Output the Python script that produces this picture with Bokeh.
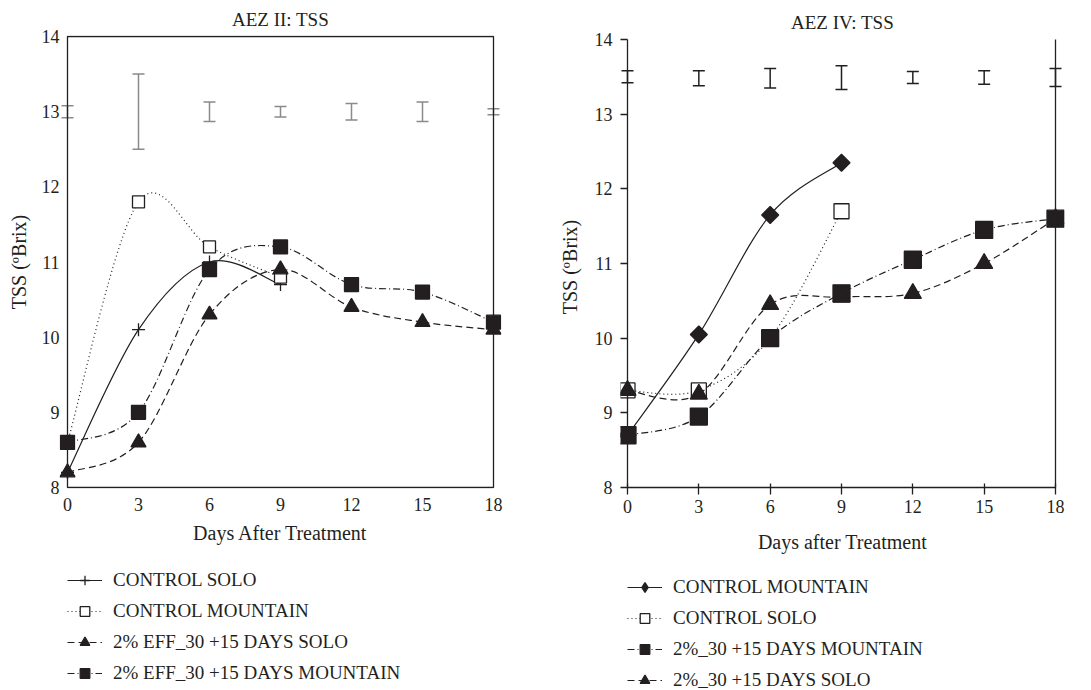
import math
from bokeh.plotting import figure
from bokeh.layouts import row, column
from bokeh.models import (ColumnDataSource, Whisker, TeeHead, Legend, LegendItem,
                          FixedTicker, Range1d, BoxAnnotation)
from bokeh.embed import file_html
from bokeh.resources import INLINE

# ---------------- data ----------------
days = [0, 3, 6, 9, 12, 15, 18]
days_ctrl = [0, 3, 6, 9]

aez2_control_solo = [8.2, 10.1, 11.0, 10.7]
aez2_control_mountain = [8.6, 11.8, 11.2, 10.8]
aez2_eff_solo = [8.2, 8.6, 10.3, 10.9, 10.4, 10.2, 10.1]
aez2_eff_mountain = [8.6, 9.0, 10.9, 11.2, 10.7, 10.6, 10.2]
aez2_err_center = [13.0, 13.0, 13.0, 13.0, 13.0, 13.0, 13.0]
aez2_err_half = [0.08, 0.5, 0.13, 0.07, 0.11, 0.13, 0.04]

aez4_control_mountain = [8.7, 10.05, 11.65, 12.35]
aez4_control_solo = [9.3, 9.3, 10.0, 11.7]
aez4_mountain = [8.7, 8.95, 10.0, 10.6, 11.05, 11.45, 11.6]
aez4_solo = [9.3, 9.25, 10.45, 10.55, 10.6, 11.0, 11.6]
aez4_err_center = [13.5, 13.48, 13.48, 13.49, 13.49, 13.49, 13.49]
aez4_err_half = [0.08, 0.1, 0.13, 0.16, 0.08, 0.09, 0.12]

x_ticks = [0, 3, 6, 9, 12, 15, 18]
y_ticks = [8, 9, 10, 11, 12, 13, 14]

INK = "#231f20"
FONT = "Liberation Serif"
CHART_H = 560
LEG_H = 130


def smooth_source(xs, ys):
    """Bezier control points (Catmull-Rom style smoothing) from the data."""
    n = len(xs)
    d = dict(x0=[], y0=[], x1=[], y1=[], cx0=[], cy0=[], cx1=[], cy1=[])
    for i in range(n - 1):
        a = i - 1 if i > 0 else i
        b = i + 2 if i + 2 < n else i + 1
        d["x0"].append(xs[i]); d["y0"].append(ys[i])
        d["x1"].append(xs[i + 1]); d["y1"].append(ys[i + 1])
        d["cx0"].append(xs[i] + (xs[i + 1] - xs[a]) / 6.0)
        d["cy0"].append(ys[i] + (ys[i + 1] - ys[a]) / 6.0)
        d["cx1"].append(xs[i + 1] - (xs[b] - xs[i]) / 6.0)
        d["cy1"].append(ys[i + 1] - (ys[b] - ys[i]) / 6.0)
    return ColumnDataSource(d)


def make_fig(title, xlabel, width, x0_px, x18_px, y14_px, y8_px,
             pad_l, pad_r, pad_t, pad_b, title_standoff):
    xs = (x18_px - x0_px) / (x_ticks[-1] - x_ticks[0])
    ys = (y8_px - y14_px) / (y_ticks[-1] - y_ticks[0])
    p = figure(width=width, height=CHART_H,
               x_range=Range1d(x_ticks[0] - pad_l / xs, x_ticks[-1] + pad_r / xs),
               y_range=Range1d(y_ticks[0] - pad_b / ys, y_ticks[-1] + pad_t / ys),
               output_backend="svg", toolbar_location=None, tools="",
               min_border_left=x0_px - pad_l, min_border_right=width - (x18_px + pad_r),
               min_border_top=y14_px - pad_t, min_border_bottom=CHART_H - (y8_px + pad_b))
    p.title.text = title
    p.title.align = "center"
    p.title.vertical_align = "middle"
    p.title.standoff = title_standoff
    p.title.text_font = FONT
    p.title.text_font_size = "19px"
    p.title.text_font_style = "normal"
    p.title.text_color = INK
    p.grid.visible = False
    p.outline_line_color = None
    p.background_fill_color = "white"
    p.border_fill_color = "white"
    p.xaxis.ticker = FixedTicker(ticks=x_ticks)
    p.yaxis.ticker = FixedTicker(ticks=y_ticks)
    p.xaxis.axis_label = xlabel
    p.yaxis.axis_label = "TSS (ºBrix)"
    for ax in (p.xaxis[0], p.yaxis[0]):
        ax.axis_line_color = None
        ax.axis_label_text_font = FONT
        ax.axis_label_text_font_size = "20px"
        ax.axis_label_text_font_style = "normal"
        ax.axis_label_text_color = INK
        ax.major_label_text_font = FONT
        ax.major_label_text_font_size = "18px"
        ax.major_label_text_color = INK
        ax.minor_tick_line_color = None
        ax.minor_tick_in = 0
        ax.minor_tick_out = 0
    p.yaxis.major_label_orientation = "horizontal"
    return p


def add_series(p, xs, ys, dash, marker, msize, fill, angle=0.0):
    src = smooth_source(xs, ys)
    rl = p.bezier(x0="x0", y0="y0", x1="x1", y1="y1", cx0="cx0", cy0="cy0",
                  cx1="cx1", cy1="cy1", source=src, line_color=INK, line_width=1.2,
                  line_dash=dash)
    rm = p.scatter(x=xs, y=ys, marker=marker, size=msize, angle=angle,
                   line_color=INK, line_width=1.3, fill_color=fill)
    return [rl, rm]


def add_errors(p, centers, halves, color):
    src = ColumnDataSource(dict(x=days,
                                upper=[c + h for c, h in zip(centers, halves)],
                                lower=[c - h for c, h in zip(centers, halves)]))
    w = Whisker(source=src, base="x", upper="upper", lower="lower",
                line_color=color, line_width=1.5,
                upper_head=TeeHead(size=12, line_color=color, line_width=1.5),
                lower_head=TeeHead(size=12, line_color=color, line_width=1.5))
    p.add_layout(w)


def legend_fig(width, series, left_px, bottom_px):
    """A strip under a chart holding its legend (series drawn off-view, keys only)."""
    q = figure(width=width, height=LEG_H, x_range=Range1d(100, 101), y_range=Range1d(100, 101),
               x_axis_type=None, y_axis_type=None, output_backend="svg",
               toolbar_location=None, tools="", min_border=0)
    q.grid.visible = False
    q.outline_line_color = None
    q.background_fill_color = "white"
    q.border_fill_color = "white"
    items = []
    for lab, args in series:
        items.append(LegendItem(label=lab, renderers=add_series(q, *args)))
    leg = Legend(items=items, location=(left_px, bottom_px), orientation="vertical",
                 glyph_width=35, glyph_height=24, spacing=7, label_standoff=11,
                 padding=0, margin=0, border_line_color=None,
                 background_fill_alpha=0,
                 label_text_font=FONT, label_text_font_size="19px",
                 label_text_color=INK)
    q.add_layout(leg)
    return q


# ---------------- AEZ II ----------------
s_cs = (days_ctrl, aez2_control_solo, "solid", "cross", 13, None)
s_cm = (days_ctrl, aez2_control_mountain, "1 3", "square", 12, "white")
s_em = (days, aez2_eff_mountain, "7 3 1 3", "square", 14, INK)
s_es = (days, aez2_eff_solo, "7 4", "triangle", 15, INK)

p1 = make_fig("AEZ II: TSS", "Days After Treatment", 545, 67, 493, 36, 487,
              8, 8, 1, 1, 9.5)
p1.xaxis.major_tick_line_color = None
p1.yaxis.major_tick_line_color = None
for ax in (p1.xaxis[0], p1.yaxis[0]):
    ax.major_tick_in = 0
    ax.major_tick_out = 0
p1.xaxis.major_label_standoff = 9
p1.yaxis.major_label_standoff = 0
p1.xaxis.axis_label_standoff = 8
p1.yaxis.axis_label_standoff = 9
p1.add_layout(BoxAnnotation(left=x_ticks[0], right=x_ticks[-1], bottom=y_ticks[0], top=y_ticks[-1],
                            fill_alpha=0, line_color=INK, line_alpha=1.0, line_width=1.3))
add_errors(p1, aez2_err_center, aez2_err_half, "#8a8a8a")
for s in (s_cs, s_cm, s_em, s_es):
    add_series(p1, *s)
l1 = legend_fig(545, [("CONTROL SOLO", s_cs), ("CONTROL MOUNTAIN", s_cm),
                      ("2% EFF_30 +15 DAYS SOLO", s_es), ("2% EFF_30 +15 DAYS MOUNTAIN", s_em)],
                8, 5)

# ---------------- AEZ IV ----------------
t_cm = (days_ctrl, aez4_control_mountain, "solid", "square", 12, INK, math.pi / 4)
t_cm_key = (days_ctrl, aez4_control_mountain, "solid", "diamond", 17, INK)
t_cs = (days_ctrl, aez4_control_solo, "1 3", "square", 15, "white")
t_m = (days, aez4_mountain, "7 3 1 3", "square", 17, INK)
t_s = (days, aez4_solo, "7 4", "triangle", 17, INK)

p2 = make_fig("AEZ IV: TSS", "Days after Treatment", 546, 82, 510, 39, 487,
              7, 9, 0, 7, 11)
for ax in (p2.xaxis[0], p2.yaxis[0]):
    ax.major_tick_line_color = INK
    ax.major_tick_line_width = 1.3
    ax.major_tick_out = 0
p2.xaxis.major_tick_in = 11
p2.yaxis.major_tick_in = 7
p2.xaxis.major_label_standoff = 5
p2.yaxis.major_label_standoff = 8
p2.xaxis.axis_label_standoff = 15
p2.yaxis.axis_label_standoff = 11
p2.add_layout(BoxAnnotation(left=x_ticks[0], right=x_ticks[-1], bottom=y_ticks[0], top=y_ticks[-1] + 1,
                            fill_alpha=0, line_color=INK, line_alpha=1.0, line_width=1.3))
add_errors(p2, aez4_err_center, aez4_err_half, INK)
for s in (t_cm, t_cs, t_m, t_s):
    add_series(p2, *s)
l2 = legend_fig(546, [("CONTROL MOUNTAIN", t_cm_key), ("CONTROL SOLO", t_cs),
                      ("2%_30 +15 DAYS MOUNTAIN", t_m), ("2%_30 +15 DAYS SOLO", t_s)],
                7, -2)

layout = row(column(p1, l1), column(p2, l2))
open("out.html", "w").write(file_html(layout, INLINE))
